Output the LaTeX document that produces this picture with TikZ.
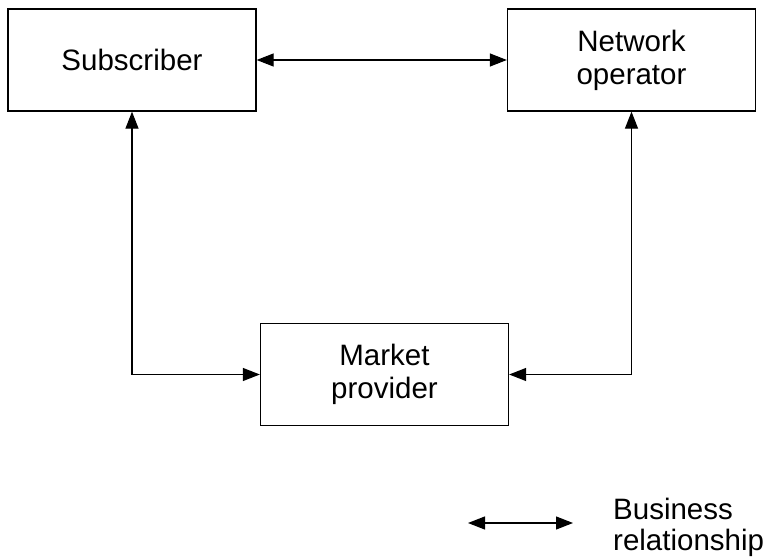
\documentclass[tikz,border=0pt]{standalone}
\usepackage{fontspec}
\setmainfont{Liberation Sans}
\usetikzlibrary{arrows.meta}
\begin{document}
\begin{tikzpicture}[x=1pt,y=-1pt,
  party/.style={draw, line width=1.3pt, rectangle, minimum width=248pt,
    minimum height=102pt, align=center, inner sep=0pt,
    font=\fontsize{29.5}{33}\selectfont},
  rel/.style={line width=1.2pt,
    {Triangle[length=17pt,width=13pt]}-{Triangle[length=17pt,width=13pt]}},
  legendtext/.style={align=left, inner sep=0pt,
    font=\fontsize{29.5}{31}\selectfont}]
  \useasboundingbox (0,0) rectangle (764,559);

  % the three parties
  \node[party] (sub) at (132,60) {Subscriber};
  \node[party] (net) at (631.5,60) {Network\\operator};
  \node[party] (mp) at (384.5,374.5) {Market\\provider};

  % business relationships between them
  \draw[rel] (sub.east) -- (net.west);
  \draw[rel] (sub.south) |- (mp.west);
  \draw[rel] (net.south) |- (mp.east);

  % legend
  \coordinate (la) at (468,523);
  \coordinate (lb) at (573,523);
  \draw[rel] (la) -- (lb);
  \node[legendtext, anchor=west] (lt) at (613,527) {Business\\relationship};
\end{tikzpicture}
\end{document}
